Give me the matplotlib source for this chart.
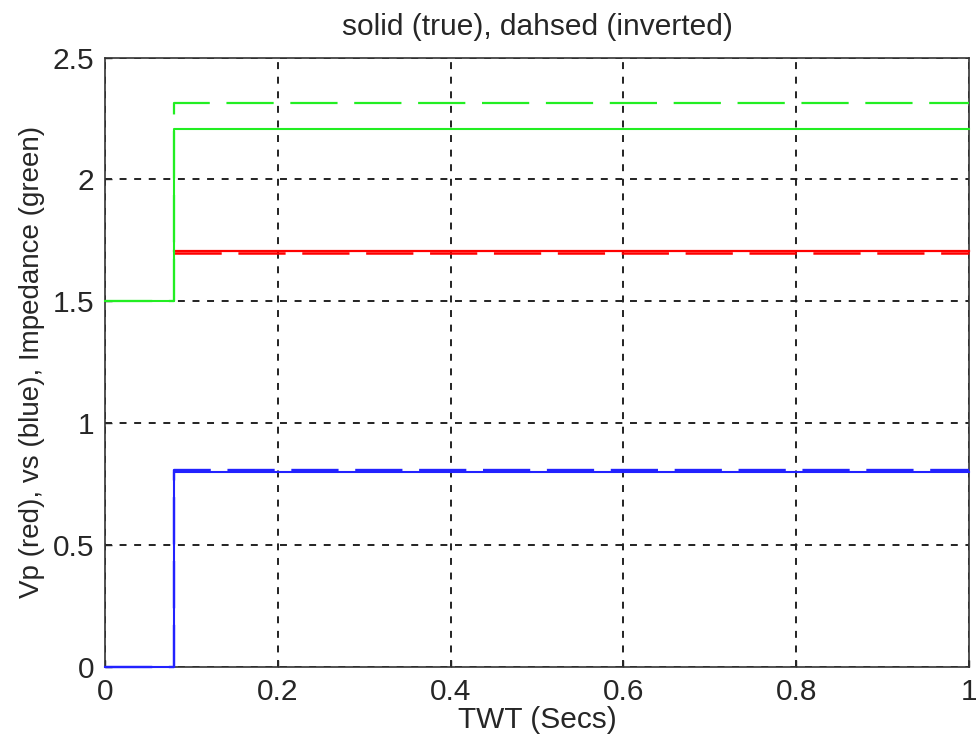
import numpy as np
import matplotlib
matplotlib.use('Agg')
import matplotlib.pyplot as plt

plt.rcParams['font.family'] = ['Liberation Sans', 'DejaVu Sans']
plt.rcParams['lines.scale_dashes'] = False

# two-way time break points (step profile, value holds until next point)
twt = [0.0, 0.08, 1.0]

# true model
vp_true = [np.nan, 1.705, 1.705]
vs_true = [0.0, 0.80, 0.80]
imp_true = [1.5, 2.205, 2.205]

# inverted model
vp_inv = [np.nan, 1.699, 1.699]
vs_inv = [0.0, 0.806, 0.806]
imp_inv = [1.5, 2.315, 2.315]

xticks = [0, 0.2, 0.4, 0.6, 0.8, 1]
xlabels = ['0', '0.2', '0.4', '0.6', '0.8', '1']
yticks = [0, 0.5, 1, 1.5, 2, 2.5]
ylabels = ['0', '0.5', '1', '1.5', '2', '2.5']

txt = '#262626'
fs = 21.5

fig = plt.figure(figsize=(9.76, 7.43), dpi=100)
ax = fig.add_axes([0.1076, 0.1023, 0.8852, 0.8203])

dash = (0, (34, 12))
kw = dict(drawstyle='steps-post', zorder=3, clip_on=False)
ax.plot(twt, vp_true, color='#ff0000', lw=1.6, **kw)
ax.plot(twt, vp_inv, color='#ff0000', lw=1.8, ls=dash, **kw)
ax.plot(twt, vs_true, color='#2222ff', lw=1.5, **kw)
ax.plot(twt, vs_inv, color='#2222ff', lw=1.7, ls=dash, **kw)
ax.plot(twt, imp_true, color='#22ee22', lw=1.5, **kw)
ax.plot(twt, imp_inv, color='#22ee22', lw=1.6, ls=dash, **kw)

ax.set_xlim(0, 1)
ax.set_ylim(0, 2.5)
ax.set_xticks(xticks)
ax.set_xticklabels(xlabels)
ax.set_yticks(yticks)
ax.set_yticklabels(ylabels)
ax.tick_params(direction='in', length=5, width=1, colors=txt, labelsize=fs, pad=8)
ax.grid(True, color='#222222', lw=1.4, ls=(0, (5, 5.5)))
for s in ax.spines.values():
    s.set_color('#333333')
    s.set_linewidth(1.2)

ax.set_title('solid (true), dahsed (inverted)', fontsize=fs, color=txt, pad=16)
ax.set_xlabel('TWT (Secs)', fontsize=fs, color=txt, labelpad=0)
ax.set_ylabel('Vp (red), vs (blue), Impedance (green)', fontsize=20, color=txt, labelpad=5)

fig.savefig('out.png', dpi=100)
